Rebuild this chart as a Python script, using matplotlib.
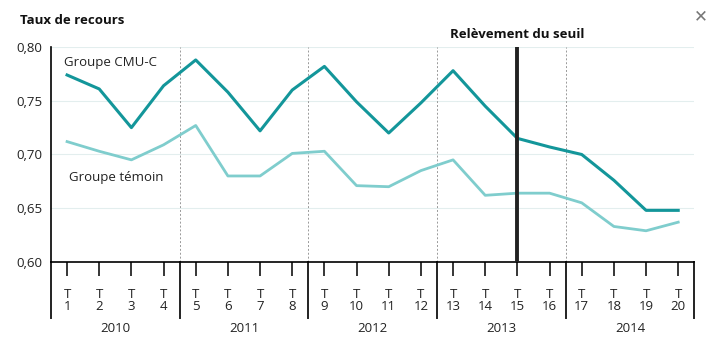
import matplotlib
matplotlib.use("Agg")
import matplotlib.pyplot as plt
import numpy as np

plt.rcParams["font.family"] = ["Open Sans", "DejaVu Sans"]

quarters = list(range(1, 21))
years = ["2010", "2011", "2012", "2013", "2014"]
cmu_c = [0.774, 0.761, 0.725, 0.764, 0.788, 0.758, 0.722, 0.760, 0.782, 0.749,
         0.720, 0.748, 0.778, 0.745, 0.715, 0.707, 0.700, 0.676, 0.648, 0.648]
temoin = [0.712, 0.703, 0.695, 0.709, 0.727, 0.680, 0.680, 0.701, 0.703, 0.671,
          0.670, 0.685, 0.695, 0.662, 0.664, 0.664, 0.655, 0.633, 0.629, 0.637]
yticks = [0.60, 0.65, 0.70, 0.75, 0.80]
seuil_q = 15

dark = "#13969a"
light = "#7fcdcd"

fig = plt.figure(figsize=(7.18, 3.46), dpi=100)
ax = fig.add_axes([0.071, 0.243, 0.896, 0.621])
ax.set_xlim(0.5, 20.5)
ax.set_ylim(0.60, 0.80)

# grid
for y in yticks[1:]:
    ax.axhline(y, color="#e3eeee", lw=0.8, zorder=0)
for b in [4.5, 8.5, 12.5, 16.5, 20.5]:
    ax.axvline(b, color="#999999", lw=0.7, ls=(0, (2, 2)), zorder=0)

ax.plot(quarters, cmu_c, color=dark, lw=2.2, zorder=3)
ax.plot(quarters, temoin, color=light, lw=2.0, zorder=3)
ax.axvline(seuil_q, color="#222222", lw=2.8, zorder=4)

for s in ["top", "right"]:
    ax.spines[s].set_visible(False)
ax.spines["left"].set_linewidth(1.2)
ax.spines["bottom"].set_linewidth(1.2)

ax.set_yticks(yticks)
ax.set_yticklabels([f"{v:.2f}".replace(".", ",") for v in yticks], fontsize=9.5, color="#222222")
ax.tick_params(axis="y", length=0, pad=6)
ax.set_xticks(quarters)
ax.set_xticklabels([f"T\n{q}" for q in quarters], fontsize=9.5, color="#222222", linespacing=0.85)
ax.tick_params(axis="x", length=10, width=1.1, pad=9, direction="out")

# year separators below axis
trans = ax.get_xaxis_transform()
for b in [0.5, 4.5, 8.5, 12.5, 16.5, 20.5]:
    ax.plot([b, b], [0, -0.26], color="#222222", lw=1.4, transform=trans, clip_on=False)
for i, yr in enumerate(years):
    ax.text(2.5 + 4 * i, -0.31, yr, transform=trans, ha="center", va="center", fontsize=9.5, color="#222222")

ax.text(0.9, 0.780, "Groupe CMU-C", fontsize=9.5, color="#222222", va="bottom", ha="left")
ax.text(1.05, 0.685, "Groupe témoin", fontsize=9.5, color="#222222", va="top", ha="left")

fig.text(20 / 718, 1 - 21 / 346, "Taux de recours", fontsize=9.5, fontweight="bold", color="#111111", va="center")
ax.text(seuil_q, 0.812, "Relèvement du seuil", fontsize=9.5, fontweight="bold", color="#111111",
        ha="center", va="center")
fig.text(701 / 718, 1 - 16 / 346, "✕", fontsize=12, fontweight="bold", color="#777777", ha="center", va="center",
         family=["DejaVu Sans"])

fig.savefig("out.png", dpi=100)
